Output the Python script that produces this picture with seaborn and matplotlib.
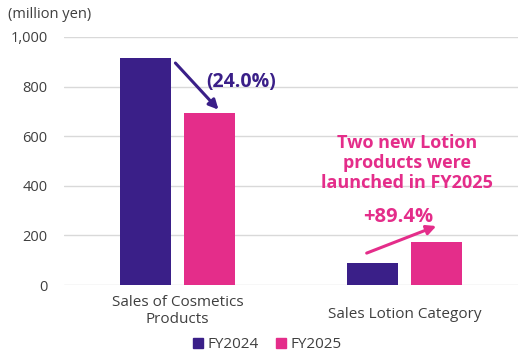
import matplotlib
matplotlib.use("Agg")
import matplotlib.pyplot as plt
import matplotlib.transforms as mtransforms
import seaborn as sns
import pandas as pd
from matplotlib.lines import Line2D

categories = ["Sales of Cosmetics\nProducts", "Sales Lotion Category"]
years = ["FY2024", "FY2025"]
fy2024 = [915, 90]
fy2025 = [695, 172]
yticks = [0, 200, 400, 600, 800, 1000]
ytick_labels = ["0", "200", "400", "600", "800", "1,000"]
change_labels = ["(24.0%)", "+89.4%"]
note = "Two new Lotion\nproducts were\nlaunched in FY2025"
unit_label = "(million yen)"

purple = "#3A1F88"
pink = "#E42D8A"
text_col = "#3F3F3F"

df = pd.DataFrame({
    "category": categories * 2,
    "year": [years[0]] * 2 + [years[1]] * 2,
    "value": fy2024 + fy2025,
})

sns.set_theme(style="white")
plt.rcParams["font.family"] = ["Open Sans", "DejaVu Sans"]

fig = plt.figure(figsize=(5.18, 3.52), dpi=100)
ax = fig.add_axes([0.124, 0.190, 0.876, 0.705])

sns.barplot(data=df, x="category", y="value", hue="year", order=categories,
            hue_order=years, palette=[purple, pink], width=0.565, gap=0.2,
            saturation=1, legend=False, ax=ax, errorbar=None, linewidth=0)

ax.set_xlim(-0.5, 1.5)
ax.set_ylim(0, 1000)
ax.set_yticks(yticks)
ax.set_yticklabels(ytick_labels, fontsize=10.5, color=text_col)
ax.yaxis.grid(True, color="#D9D9D9", lw=1)
ax.set_axisbelow(True)
for s in ax.spines.values():
    s.set_visible(False)
ax.tick_params(axis="y", length=0, pad=12)
ax.tick_params(axis="x", length=0, pad=7)
ax.set_xlabel("")
ax.set_ylabel("")
for lab in ax.get_xticklabels():
    lab.set_fontsize(11)
    lab.set_color(text_col)
    lab.set_linespacing(1.2)
xl = ax.get_xticklabels()
xl[1].set_transform(xl[1].get_transform() +
                    mtransforms.ScaledTranslation(0, -9 / 72, fig.dpi_scale_trans))

fig.text(8 / 518, 1 - 14 / 352, unit_label, fontsize=10.5, color=text_col,
         ha="left", va="center")

# Annotations
ax.annotate("", xy=(0.18, fy2025[0] + 12), xytext=(-0.01, fy2024[0] - 20),
            arrowprops=dict(arrowstyle="-|>", color=purple, lw=2.2, mutation_scale=14,
                            shrinkA=0, shrinkB=0))
ax.text(0.28, 819, change_labels[0], color=purple, fontsize=14, fontweight="bold",
        ha="center", va="center")

ax.annotate("", xy=(1.14, 238), xytext=(0.833, 129),
            arrowprops=dict(arrowstyle="-|>", color=pink, lw=2.2, mutation_scale=14,
                            shrinkA=0, shrinkB=0))
ax.text(0.974, 274, change_labels[1], color=pink, fontsize=14.5, fontweight="bold",
        ha="center", va="center")
ax.text(1.01, 492, note, color=pink, fontsize=13, fontweight="bold",
        ha="center", va="center", linespacing=1.15)

handles = [Line2D([], [], marker="s", ls="", color=c, markersize=7) for c in (purple, pink)]
fig.legend(handles=handles, labels=years, loc="center",
           bbox_to_anchor=(266 / 518, 1 - 345 / 352), ncol=2, frameon=False,
           handletextpad=0.1, columnspacing=1.0, fontsize=11,
           labelcolor=text_col, borderpad=0, handlelength=1.0)

fig.savefig("out.png", dpi=100)
